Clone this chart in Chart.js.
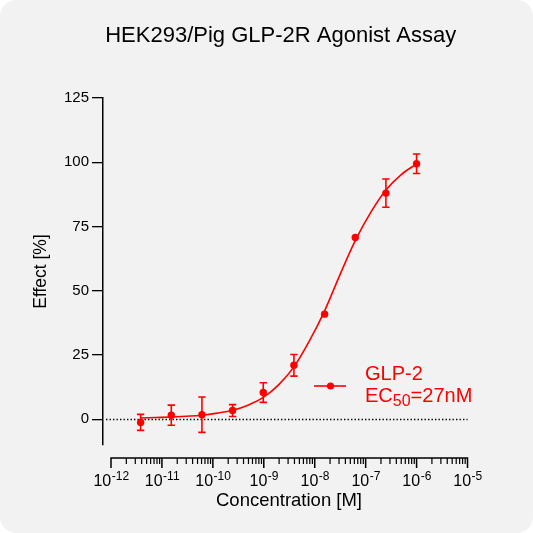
<!DOCTYPE html>
<html>
<head>
<meta charset="utf-8">
<script src="https://cdn.jsdelivr.net/npm/chart.js@4.4.1/dist/chart.umd.min.js"></script>
<style>
html, body { margin: 0; padding: 0; background: #ffffff; }
canvas { display: block; }
</style>
</head>
<body>
<canvas id="c" width="533" height="533"></canvas>
<script>
// ---- text ----
const chartTitle = 'HEK293/Pig GLP-2R Agonist Assay';
const xAxisTitle = 'Concentration [M]';
const yAxisTitle = 'Effect [%]';
const seriesName = 'GLP-2';
const ec50Parts = ['EC', '50', '=27nM'];

// ---- data ----
const concentrations = [3.815e-12, 1.526e-11, 6.104e-11, 2.441e-10, 9.766e-10, 3.906e-9, 1.5625e-8, 6.25e-8, 2.5e-7, 1e-6];
const effectMean = [-1.2, 1.6, 1.8, 3.4, 10.4, 21.0, 40.9, 70.7, 88.0, 99.4];
const effectError = [3.1, 3.9, 6.9, 2.3, 3.8, 4.2, 0, 0, 5.5, 3.8];

// fitted curve
const fitConcentrations = [3.815e-12, 7.63e-12, 1.526e-11, 3.052e-11, 6.104e-11, 1.221e-10, 2.441e-10, 4.883e-10, 9.766e-10, 1.953e-9, 3.906e-9, 7.8125e-9, 1.5625e-8, 3.125e-8, 6.25e-8, 1.25e-7, 2.5e-7, 5e-7, 1e-6];
const fitEffect = [0.5, 0.7, 0.9, 1.2, 1.6, 2.4, 3.5, 5.5, 8.5, 13.4, 20.4, 30.4, 42.2, 56.2, 69.5, 80.4, 89.2, 95.2, 99.4];

// ---- ticks ----
const yTickValues = [0, 25, 50, 75, 100, 125];
const xTickExponents = [-12, -11, -10, -9, -8, -7, -6, -5];
const minorMultipliers = [2, 3, 4, 5, 6, 7, 8, 9];

const RED = '#ff0000';
const FONT = "'Liberation Sans', Arial, Helvetica, sans-serif";
Chart.defaults.font.family = FONT;
Chart.defaults.color = '#000';

const pointData = concentrations.map((c, i) => ({ x: c, y: effectMean[i] }));
const fitData = fitConcentrations.map((c, i) => ({ x: c, y: fitEffect[i] }));

const decorPlugin = {
  id: 'decor',
  beforeDraw(chart) {
    const ctx = chart.ctx;
    const w = chart.width, h = chart.height, r = 16;
    ctx.save();
    ctx.fillStyle = '#f2f2f2';
    ctx.beginPath();
    ctx.moveTo(r, 0);
    ctx.lineTo(w - r, 0);
    ctx.arcTo(w, 0, w, r, r);
    ctx.lineTo(w, h - r);
    ctx.arcTo(w, h, w - r, h, r);
    ctx.lineTo(r, h);
    ctx.arcTo(0, h, 0, h - r, r);
    ctx.lineTo(0, r);
    ctx.arcTo(0, 0, r, 0, r);
    ctx.closePath();
    ctx.fill();
    ctx.restore();
  },
  beforeDatasetsDraw(chart) {
    const ctx = chart.ctx;
    const xs = chart.scales.x, ys = chart.scales.y;
    const area = chart.chartArea;
    // dotted zero line
    ctx.save();
    ctx.strokeStyle = '#000';
    ctx.lineWidth = 1.3;
    ctx.setLineDash([1.4, 2.1]);
    const y0 = Math.round(ys.getPixelForValue(0)) + 0.5;
    ctx.beginPath();
    ctx.moveTo(area.left + 3, y0);
    ctx.lineTo(xs.getPixelForValue(Math.pow(10, xTickExponents[xTickExponents.length - 1])), y0);
    ctx.stroke();
    ctx.restore();
    // error bars
    const meta = chart.getDatasetMeta(0);
    ctx.save();
    ctx.strokeStyle = RED;
    ctx.lineWidth = 1.6;
    meta.data.forEach((el, i) => {
      const e = effectError[i];
      if (!e) return;
      const yt = ys.getPixelForValue(effectMean[i] + e);
      const yb = ys.getPixelForValue(effectMean[i] - e);
      ctx.beginPath();
      ctx.moveTo(el.x, yt); ctx.lineTo(el.x, yb);
      ctx.moveTo(el.x - 3.7, yt); ctx.lineTo(el.x + 3.7, yt);
      ctx.moveTo(el.x - 3.7, yb); ctx.lineTo(el.x + 3.7, yb);
      ctx.stroke();
    });
    ctx.restore();
  },
  afterDraw(chart) {
    const ctx = chart.ctx;
    const xs = chart.scales.x;
    const area = chart.chartArea;
    const axisY = area.bottom + 13;
    const first = xs.getPixelForValue(Math.pow(10, xTickExponents[0]));
    const last = xs.getPixelForValue(Math.pow(10, xTickExponents[xTickExponents.length - 1]));
    ctx.save();
    ctx.strokeStyle = '#000';
    ctx.lineWidth = 1.5;
    ctx.beginPath();
    ctx.moveTo(first - 0.75, axisY);
    ctx.lineTo(last + 0.75, axisY);
    // major ticks
    xTickExponents.forEach(e => {
      const px = xs.getPixelForValue(Math.pow(10, e));
      ctx.moveTo(px, axisY);
      ctx.lineTo(px, axisY + 10);
    });
    ctx.stroke();
    ctx.lineWidth = 1.2;
    ctx.beginPath();
    xTickExponents.slice(0, -1).forEach(e => {
      minorMultipliers.forEach(m => {
        const px = xs.getPixelForValue(m * Math.pow(10, e));
        ctx.moveTo(px, axisY);
        ctx.lineTo(px, axisY + 6);
      });
    });
    ctx.stroke();
    // tick labels 10^n
    ctx.fillStyle = '#000';
    ctx.textBaseline = 'alphabetic';
    ctx.textAlign = 'left';
    const baseFont = '16px ' + FONT;
    const supFont = '12px ' + FONT;
    xTickExponents.forEach(e => {
      const px = xs.getPixelForValue(Math.pow(10, e));
      const sup = '-' + Math.abs(e);
      ctx.font = baseFont;
      const w1 = ctx.measureText('10').width;
      ctx.font = supFont;
      const w2 = ctx.measureText(sup).width;
      const x0 = px - (w1 + w2) / 2;
      ctx.font = baseFont;
      ctx.fillText('10', x0, axisY + 27.5);
      ctx.font = supFont;
      ctx.fillText(sup, x0 + w1 + 0.5, axisY + 22);
    });
    // chart title
    ctx.font = '22px ' + FONT;
    ctx.textAlign = 'center';
    ctx.fillText(chartTitle, 280.7, 41.5);
    // legend
    ctx.strokeStyle = RED;
    ctx.fillStyle = RED;
    ctx.lineWidth = 1.6;
    ctx.beginPath();
    ctx.moveTo(314, 386);
    ctx.lineTo(346, 386);
    ctx.stroke();
    ctx.beginPath();
    ctx.arc(330.5, 386, 3.6, 0, Math.PI * 2);
    ctx.fill();
    ctx.textAlign = 'left';
    ctx.font = '20px ' + FONT;
    ctx.fillText(seriesName, 365, 380);
    let tx = 365;
    ctx.fillText(ec50Parts[0], tx, 401.7);
    tx += ctx.measureText(ec50Parts[0]).width;
    ctx.font = '16px ' + FONT;
    ctx.fillText(ec50Parts[1], tx, 405.7);
    tx += ctx.measureText(ec50Parts[1]).width;
    ctx.font = '20px ' + FONT;
    ctx.fillText(ec50Parts[2], tx, 401.7);
    ctx.restore();
  }
};

new Chart(document.getElementById('c'), {
  type: 'scatter',
  data: {
    datasets: [
      {
        label: seriesName,
        data: pointData,
        backgroundColor: RED,
        borderColor: RED,
        pointRadius: 3.7,
        pointBorderWidth: 0,
        showLine: false,
        order: 0
      },
      {
        label: seriesName + ' fit',
        type: 'line',
        data: fitData,
        borderColor: RED,
        borderWidth: 1.6,
        pointRadius: 0,
        fill: false,
        cubicInterpolationMode: 'monotone',
        showLine: true,
        order: 1
      }
    ]
  },
  options: {
    responsive: false,
    animation: false,
    devicePixelRatio: 1,
    layout: { padding: { left: 0, right: 58, top: 98, bottom: 0 } },
    plugins: {
      legend: { display: false },
      tooltip: { enabled: false },
      title: { display: false }
    },
    scales: {
      x: {
        type: 'logarithmic',
        position: 'bottom',
        min: Math.pow(10, -12.157),
        max: Math.pow(10, -4.853),
        afterFit: (s) => { s.height = 88; },
        border: { display: false },
        grid: { display: false },
        ticks: { display: false },
        title: {
          display: true,
          text: xAxisTitle,
          font: { size: 18.5 },
          color: '#000',
          padding: { top: 0, bottom: 21 }
        }
      },
      y: {
        type: 'linear',
        position: 'left',
        min: -10,
        max: 125,
        afterFit: (s) => { s.width = 103; },
        afterBuildTicks: (s) => { s.ticks = yTickValues.map(v => ({ value: v })); },
        border: { display: true, color: '#000', width: 1.5 },
        grid: { display: true, drawOnChartArea: false, drawTicks: true, tickLength: 11, color: '#000', lineWidth: 1.3 },
        ticks: { font: { size: 15 }, color: '#000', padding: 3 },
        title: {
          display: true,
          text: yAxisTitle,
          font: { size: 17.5 },
          color: '#000',
          padding: { top: 31, bottom: 0 }
        }
      }
    }
  },
  plugins: [decorPlugin]
});
</script>
</body>
</html>
